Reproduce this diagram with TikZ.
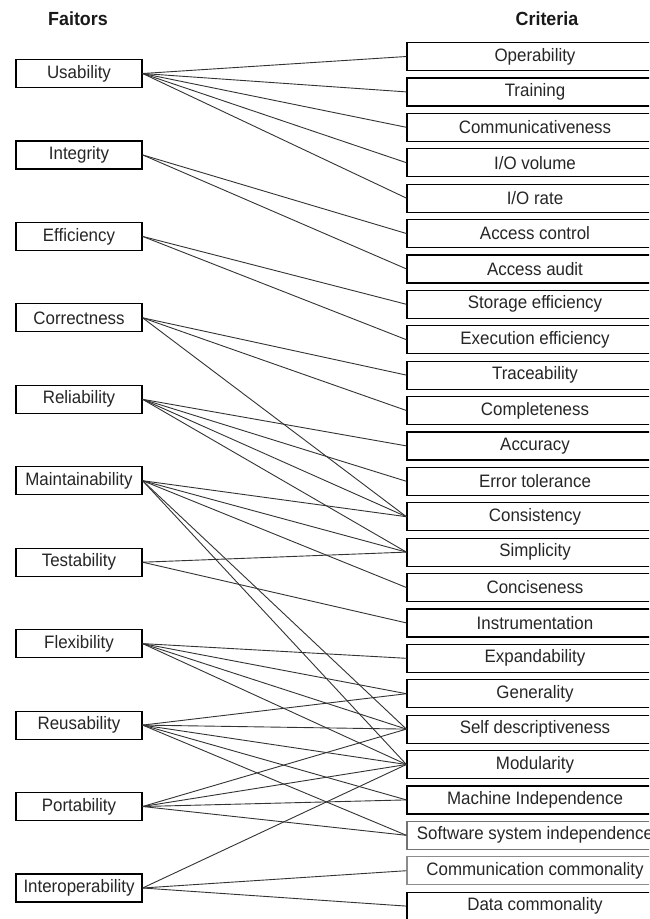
\documentclass[tikz,border=0pt]{standalone}
\usepackage{fontspec}
\setmainfont{Liberation Sans}[FakeStretch=0.94]
\begin{document}
\begin{tikzpicture}[x=1pt,y=-1pt,
  fbox/.style={draw=black,line width=1.2pt,minimum width=126pt,minimum height=28pt,inner sep=0pt,font=\fontsize{18}{20}\selectfont,text=black!85},
  cbox/.style={draw=black,line width=1.2pt,minimum width=256pt,minimum height=28pt,inner sep=0pt,font=\fontsize{18}{20}\selectfont,text=black!85},
  hdr/.style={font=\fontsize{19}{22}\selectfont\bfseries,text=black!90},
  link/.style={draw=black!80,line width=0.9pt}]
\useasboundingbox (0,0) rectangle (649,919);
\clip (0,0) rectangle (649,919);
\fill[white] (0,0) rectangle (649,919);
% headers
\node[hdr] (hf) at (78,19) {Faitors};
\node[hdr] (hc) at (547,19) {Criteria};
% factors
\node[fbox] (usab) at (79,73.5) {Usability};
\node[fbox] (integ) at (79,154.9) {Integrity};
\node[fbox] (eff) at (79,236.4) {Efficiency};
\node[fbox] (corr) at (79,317.8) {Correctness};
\node[fbox] (rel) at (79,399.3) {Reliability};
\node[fbox] (maint) at (79,480.7) {Maintainability};
\node[fbox] (test) at (79,562.2) {Testability};
\node[fbox] (flex) at (79,643.6) {Flexibility};
\node[fbox] (reus) at (79,725.1) {Reusability};
\node[fbox] (port) at (79,806.5) {Portability};
\node[fbox] (inter) at (79,888.0) {Interoperability};
% criteria
\node[cbox] (op) at (535,56.5) {Operability};
\node[cbox] (tr) at (535,91.9) {Training};
\node[cbox] (com) at (535,127.3) {Communicativeness};
\node[cbox] (iov) at (535,162.7) {I/O volume};
\node[cbox] (ior) at (535,198.1) {I/O rate};
\node[cbox] (acc) at (535,233.5) {Access control};
\node[cbox] (aud) at (535,268.9) {Access audit};
\node[cbox] (sto) at (535,304.3) {Storage efficiency};
\node[cbox] (exe) at (535,339.7) {Execution efficiency};
\node[cbox] (trace) at (535,375.1) {Traceability};
\node[cbox] (compl) at (535,410.5) {Completeness};
\node[cbox] (accu) at (535,445.9) {Accuracy};
\node[cbox] (err) at (535,481.3) {Error tolerance};
\node[cbox] (cons) at (535,516.7) {Consistency};
\node[cbox] (simp) at (535,552.1) {Simplicity};
\node[cbox] (conc) at (535,587.5) {Conciseness};
\node[cbox] (instr) at (535,622.9) {Instrumentation};
\node[cbox] (exp) at (535,658.3) {Expandability};
\node[cbox] (gen) at (535,693.7) {Generality};
\node[cbox] (self) at (535,729.1) {Self descriptiveness};
\node[cbox] (mod) at (535,764.5) {Modularity};
\node[cbox] (mach) at (535,799.9) {Machine Independence};
\node[cbox,draw=black!55] (soft) at (535,835.3) {Software system independence};
\node[cbox,draw=black!45] (commc) at (535,870.7) {Communication commonality};
\node[cbox] (data) at (535,906.1) {Data commonality};
% links
\foreach \a/\b in {usab/op,usab/tr,usab/com,usab/iov,usab/ior,
  integ/acc,integ/aud,
  eff/sto,eff/exe,
  corr/trace,corr/compl,corr/cons,
  rel/accu,rel/err,rel/cons,rel/simp,
  maint/cons,maint/simp,maint/conc,maint/self,maint/mod,
  test/simp,test/instr,
  flex/exp,flex/gen,flex/self,flex/mod,
  reus/gen,reus/self,reus/mod,reus/mach,reus/soft,
  port/self,port/mod,port/mach,port/soft,
  inter/mod,inter/commc,inter/data}
  \draw[link] (\a.east) -- (\b.west);
\end{tikzpicture}
\end{document}
